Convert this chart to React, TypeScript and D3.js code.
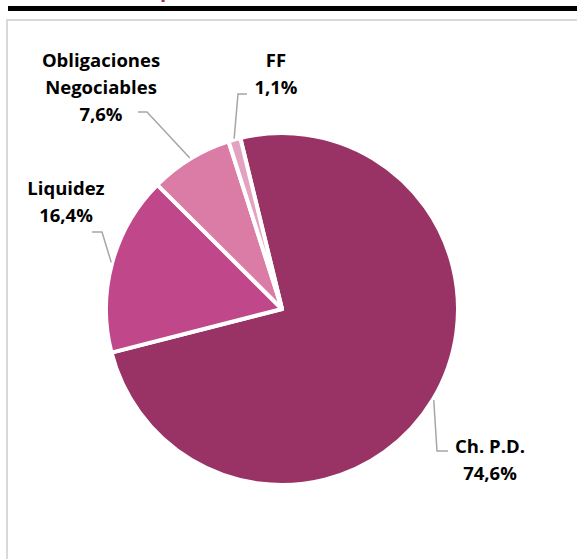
import React from "react";
import * as d3 from "d3";

const categories = ["Ch. P.D.", "Liquidez", "Obligaciones Negociables", "FF"];
const values = [74.6, 16.4, 7.6, 1.1];
const valueLabels = ["74,6%", "16,4%", "7,6%", "1,1%"];
const labelLines = [["Ch. P.D."], ["Liquidez"], ["Obligaciones", "Negociables"], ["FF"]];
const colors = ["#993366", "#C0478A", "#DB7CA7", "#E3A2C2"];

const W = 577;
const H = 559;
const cx = 282;
const cy = 309;
const R = 176;
const startDeg = -13.7;

// label layout: center x, first baseline y, and leader polyline knee points
const labelPos = [
  { x: 490, y: 453, knee: [[437, 451], [448, 451]] },
  { x: 66, y: 195, knee: [[102, 232], [92, 232]] },
  { x: 101, y: 67, knee: [[147, 112], [138, 112]] },
  { x: 276, y: 67, knee: [[238, 94], [247, 94]] },
];

export default function App() {
  const pie = d3
    .pie<number>()
    .sort(null)
    .startAngle((startDeg * Math.PI) / 180)
    .endAngle((startDeg * Math.PI) / 180 + 2 * Math.PI);
  const arcs = pie(values);
  const arc = d3.arc<d3.PieArcDatum<number>>().innerRadius(0).outerRadius(R);
  const font = "'Open Sans', 'DejaVu Sans', sans-serif";
  const lineH = 27;

  return (
    <svg
      width={W}
      height={H}
      style={{ position: "absolute", left: 0, top: 0, background: "#fff" }}
    >
      <text x={160} y={-3} fontFamily={font} fontWeight={700} fontSize={20} fill="#993366">
        p
      </text>
      <rect x={8} y={6} width={W - 8} height={5} fill="#000" />
      <rect x={7} y={20} width={W + 10} height={H + 10} fill="#fff" stroke="#d9d9d9" strokeWidth={2} />
      <g transform={`translate(${cx},${cy})`}>
        {arcs.map((a, i) => (
          <path key={categories[i]} d={arc(a) || ""} fill={colors[i]} stroke="#fff" strokeWidth={4} strokeLinejoin="round" />
        ))}
      </g>
      {arcs.map((a, i) => {
        const mid = (a.startAngle + a.endAngle) / 2;
        const rr = R + 1;
        const ex = cx + rr * Math.sin(mid);
        const ey = cy - rr * Math.cos(mid);
        const lp = labelPos[i];
        const pts = [[ex, ey], ...lp.knee];
        return (
          <polyline
            key={"l" + i}
            points={pts.map((p) => p.join(",")).join(" ")}
            fill="none"
            stroke="#a6a6a6"
            strokeWidth={1.5}
          />
        );
      })}
      {labelLines.map((lines, i) => {
        const lp = labelPos[i];
        const all = [...lines, valueLabels[i]];
        return (
          <text
            key={"t" + i}
            textAnchor="middle"
            fontFamily={font}
            fontWeight={700}
            fontSize={18.5}
            fill="#000"
          >
            {all.map((s, j) => (
              <tspan key={j} x={lp.x} y={lp.y + j * lineH}>
                {s}
              </tspan>
            ))}
          </text>
        );
      })}
    </svg>
  );
}
